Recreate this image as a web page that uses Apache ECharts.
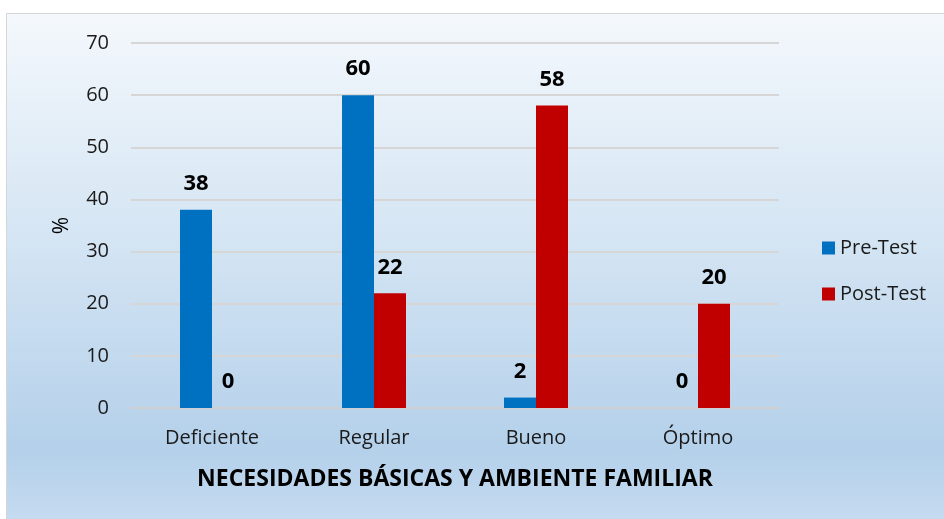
<!DOCTYPE html>
<html>
<head>
<meta charset="utf-8">
<script src="https://cdn.jsdelivr.net/npm/echarts@6/dist/echarts.min.js"></script>
<style>
  html, body { margin: 0; padding: 0; background: #ffffff; }
  #chart { width: 944px; height: 519px; }
</style>
</head>
<body>
<div id="chart"></div>
<script>
// Chart data
var categories = ['Deficiente', 'Regular', 'Bueno', 'Óptimo'];
var preTest = [38, 60, 2, 0];
var postTest = [0, 22, 58, 20];
var seriesNames = ['Pre-Test', 'Post-Test'];

var font = '"Open Sans", "Noto Sans", sans-serif';

var chart = echarts.init(document.getElementById('chart'), null, { renderer: 'canvas' });

// Data label style shared by both series
function barLabel() {
  return {
    show: true,
    position: 'top',
    distance: 15,
    fontFamily: font,
    fontSize: 22,
    fontWeight: 'bold',
    color: '#000000'
  };
}

var option = {
  animation: false,
  backgroundColor: '#ffffff',
  graphic: [
    {
      type: 'rect',
      z: -10,
      silent: true,
      shape: { x: 6.5, y: 13.5, width: 950, height: 520 },
      style: {
        stroke: '#d6d6d6',
        lineWidth: 1,
        fill: {
          type: 'linear', x: 0, y: 0, x2: 0, y2: 1,
          colorStops: [
            { offset: 0, color: '#f4f8fc' },
            { offset: 0.45, color: '#d3e4f3' },
            { offset: 0.84, color: '#b4d0ea' },
            { offset: 1, color: '#c8ddf1' }
          ]
        }
      }
    }
  ],
  legend: {
    orient: 'vertical',
    left: 817,
    top: 233,
    itemWidth: 13,
    itemHeight: 13,
    itemGap: 26,
    icon: 'rect',
    textStyle: { fontFamily: font, fontSize: 20, color: '#1a1a1a' },
    data: seriesNames
  },
  grid: {
    left: 131,
    right: 165,
    top: 43,
    bottom: 111
  },
  xAxis: {
    type: 'category',
    data: categories,
    name: 'NECESIDADES BÁSICAS Y AMBIENTE FAMILIAR',
    nameLocation: 'middle',
    nameGap: 60,
    nameTextStyle: { fontFamily: font, fontSize: 23, fontWeight: 'bold', color: '#000000' },
    axisLine: { lineStyle: { color: '#d0d0d0', width: 2 } },
    axisTick: { show: false },
    axisLabel: { fontFamily: font, fontSize: 20, color: '#1a1a1a', margin: 20 }
  },
  yAxis: {
    type: 'value',
    min: 0,
    max: 70,
    interval: 10,
    name: '%',
    nameLocation: 'middle',
    nameGap: 58,
    nameTextStyle: { fontFamily: font, fontSize: 21, color: '#000000' },
    axisLine: { show: false },
    axisTick: { show: false },
    axisLabel: { fontFamily: font, fontSize: 20, color: '#1a1a1a', margin: 22 },
    splitLine: { lineStyle: { color: '#d6d6d6', width: 2 } }
  },
  series: [
    {
      name: seriesNames[0],
      type: 'bar',
      data: preTest,
      barWidth: 32,
      barGap: '0%',
      itemStyle: { color: '#0070c0' },
      label: barLabel()
    },
    {
      name: seriesNames[1],
      type: 'bar',
      data: postTest,
      barWidth: 32,
      itemStyle: { color: '#c00000' },
      label: barLabel()
    }
  ]
};

chart.setOption(option);
</script>
</body>
</html>
